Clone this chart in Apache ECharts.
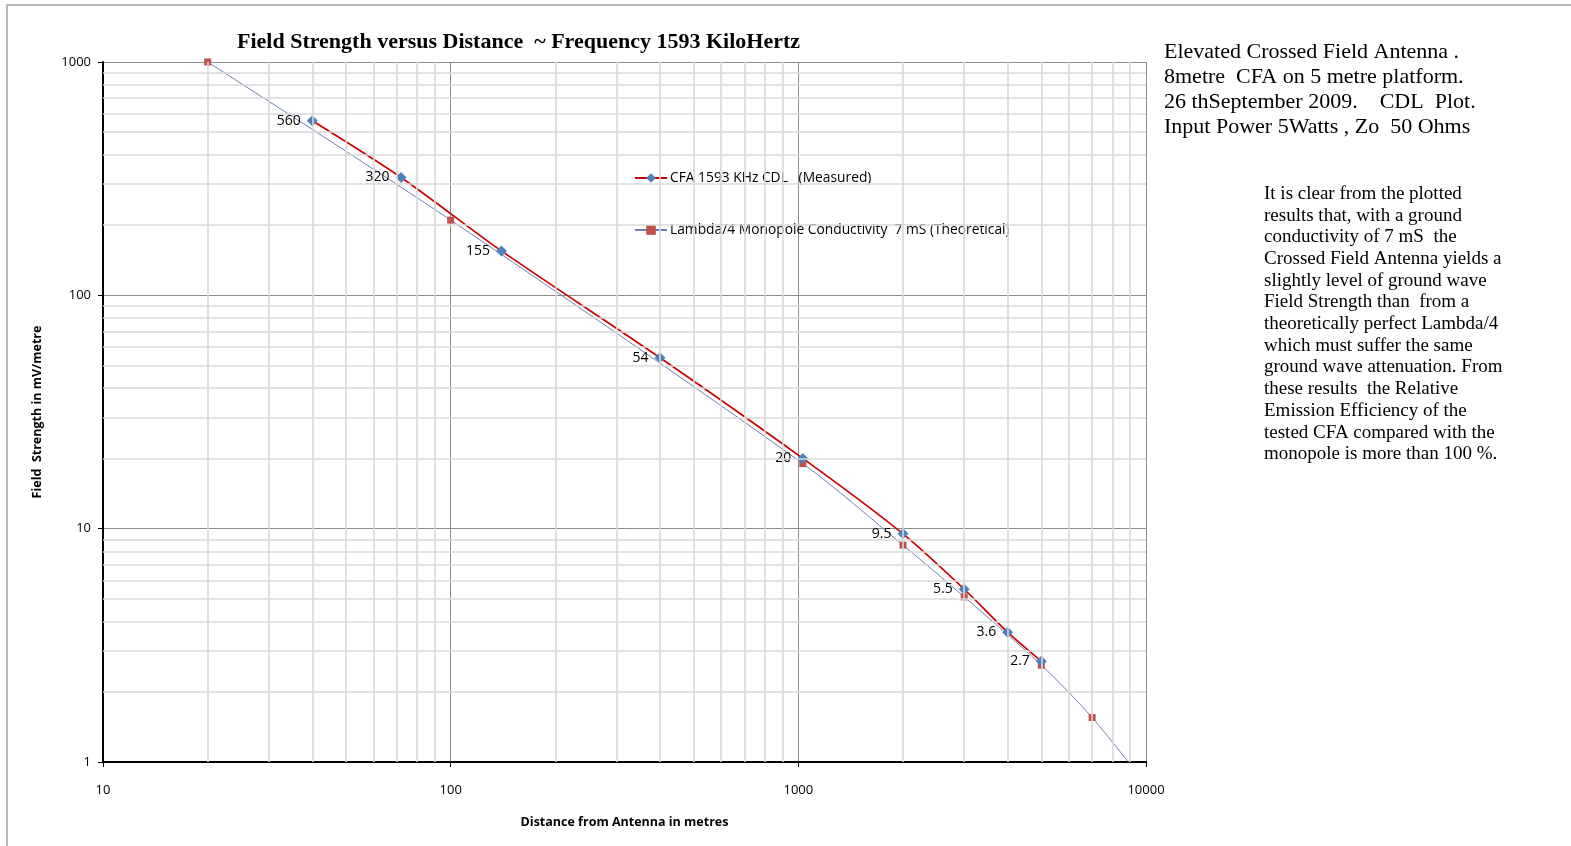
<!DOCTYPE html>
<html>
<head>
<meta charset="utf-8">
<script src="https://cdn.jsdelivr.net/npm/echarts@6/dist/echarts.min.js"></script>
<style>
html,body{margin:0;padding:0;background:#fff;}
#frame{position:absolute;left:6px;top:4px;width:1565px;height:842px;border-top:2px solid #b8b8b8;border-left:2px solid #b8b8b8;box-sizing:border-box;}
#chart{position:absolute;left:0;top:0;width:1571px;height:846px;}
</style>
</head>
<body>
<div id="frame"></div>
<div id="chart"></div>
<script>
// ---- data ----
const measuredDistance = [40, 72, 140, 400, 1030, 2000, 3000, 4000, 5000];
const measuredField = [560, 320, 155, 54, 20, 9.5, 5.5, 3.6, 2.7];
const theoryDistance = [20, 100, 1030, 2000, 3000, 5000, 7000, 10000];
const theoryField = [1000, 210, 19, 8.5, 5.1, 2.6, 1.55, 0.8];
const xMinorGrid = [20, 30, 40, 50, 60, 70, 80, 90, 200, 300, 400, 500, 600, 700, 800, 900, 2000, 3000, 4000, 5000, 6000, 7000, 8000, 9000];
const yMinorGrid = [2, 3, 4, 5, 6, 7, 8, 9, 20, 30, 40, 50, 60, 70, 80, 90, 200, 300, 400, 500, 600, 700, 800, 900];
const seriesNames = ['CFA 1593 KHz CDL   (Measured)', 'Lambda/4 Monopole Conductivity  7 mS (Theoretical)'];
const titleText = 'Field Strength versus Distance  ~ Frequency 1593 KiloHertz';
const headerLines = ['Elevated Crossed Field Antenna .', '8metre  CFA on 5 metre platform.', '26 thSeptember 2009.    CDL  Plot.', 'Input Power 5Watts , Zo  50 Ohms'];
const noteLines = ['It is clear from the plotted', 'results that, with a ground', 'conductivity of 7 mS  the', 'Crossed Field Antenna yields a', 'slightly level of ground wave', 'Field Strength than  from a', 'theoretically perfect Lambda/4', 'which must suffer the same', 'ground wave attenuation. From', 'these results  the Relative', 'Emission Efficiency of the', 'tested CFA compared with the', 'monopole is more than 100 %.'];

const measuredData = measuredDistance.map((d, i) => [d, measuredField[i]]);
const theoryData = theoryDistance.map((d, i) => {
  const v = [d, theoryField[i]];
  return theoryField[i] < 1 ? {value: v, symbol: 'none'} : v;
});

const chart = echarts.init(document.getElementById('chart'), null, {renderer: 'canvas'});
const sans = '"Open Sans", sans-serif';
const serif = '"Liberation Serif", "Times New Roman", serif';
const plain = v => String(Math.round(v * 1000) / 1000);

chart.setOption({
  animation: false,
  backgroundColor: 'transparent',
  grid: {left: 103, right: 425, top: 62, bottom: 84, containLabel: false},
  legend: {
    orient: 'vertical', left: 629, top: 166, itemGap: 38, itemWidth: 32, itemHeight: 12,
    textStyle: {fontFamily: sans, fontSize: 13.8, color: '#000', padding: [0, 0, 0, -2]},
    data: seriesNames
  },
  graphic: [
    {type: 'text', left: 237, top: 31, style: {text: titleText, font: 'bold 22px ' + serif, fill: '#000'}},
    {type: 'text', left: 1164, top: 40, style: {text: headerLines.join('\n'), font: '22px ' + serif, lineHeight: 25, fill: '#000'}},
    {type: 'text', left: 1264, top: 183, style: {text: noteLines.join('\n'), font: '19px ' + serif, lineHeight: 21.7, fill: '#000'}}
  ],
  xAxis: {
    type: 'log', logBase: 10, min: 10, max: 10000,
    name: 'Distance from Antenna in metres', nameLocation: 'middle', nameGap: 54,
    nameTextStyle: {fontFamily: sans, fontSize: 12.5, fontWeight: 'bold', color: '#000'},
    axisLine: {show: true, onZero: false, lineStyle: {color: '#000', width: 2}},
    axisTick: {show: true, length: 5, lineStyle: {color: '#000'}},
    axisLabel: {fontFamily: sans, fontSize: 13, color: '#000', margin: 22, formatter: plain},
    splitLine: {show: true, lineStyle: {color: '#8c8c8c', width: 1}},
    minorTick: {show: false}, minorSplitLine: {show: false}
  },
  yAxis: {
    type: 'log', logBase: 10, min: 1, max: 1000,
    name: 'Field  Strength in mV/metre', nameLocation: 'middle', nameGap: 59, nameRotate: 90,
    nameTextStyle: {fontFamily: sans, fontSize: 12.5, fontWeight: 'bold', color: '#000'},
    axisLine: {show: true, onZero: false, lineStyle: {color: '#000', width: 2}},
    axisTick: {show: true, length: 5, lineStyle: {color: '#000'}},
    axisLabel: {fontFamily: sans, fontSize: 13, color: '#000', margin: 12, formatter: plain},
    splitLine: {show: true, lineStyle: {color: '#8c8c8c', width: 1}},
    minorTick: {show: false}, minorSplitLine: {show: false}
  },
  series: [
    {
      name: 'minorGrid', type: 'line', data: [], z: 1, silent: true,
      markLine: {
        silent: true, symbol: ['none', 'none'], label: {show: false},
        lineStyle: {color: '#d9d9d9', width: 1.6, type: 'solid'},
        emphasis: {disabled: true},
        data: xMinorGrid.map(v => ({xAxis: v})).concat(yMinorGrid.map(v => ({yAxis: v})))
      }
    },
    {
      name: seriesNames[1], type: 'line', data: theoryData, z: 3, smooth: 0.3,
      symbol: 'rect', symbolSize: 7, showAllSymbol: true,
      lineStyle: {color: '#6f80b4', width: 1},
      itemStyle: {color: '#c0504d'},
      clip: true
    },
    {
      name: seriesNames[0], type: 'line', data: measuredData, z: 4, smooth: 0.3,
      symbol: 'diamond', symbolSize: 11, showAllSymbol: true,
      lineStyle: {color: '#cc0000', width: 1.7},
      itemStyle: {color: '#4f81bd'},
      label: {show: true, position: 'left', distance: 6, fontFamily: sans, fontSize: 14, color: '#000',
        formatter: p => String(p.value[1])}
    }
  ]
});
</script>
</body>
</html>
